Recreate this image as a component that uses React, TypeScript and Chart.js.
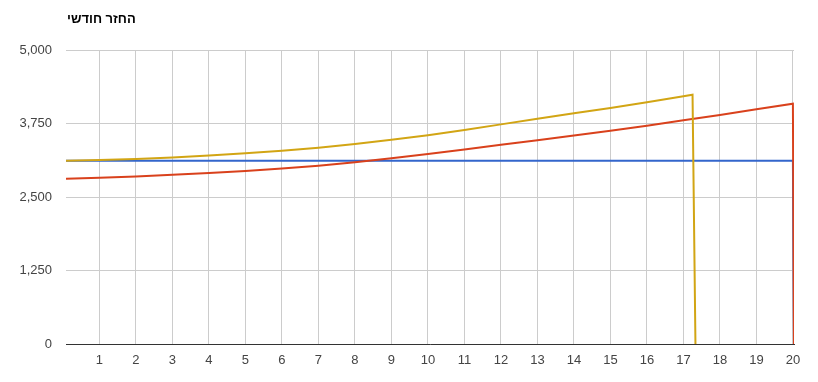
import React, { useEffect, useRef } from "react";
import { Chart, registerables } from "chart.js";

Chart.register(...registerables);

const titleText = "החזר חודשי";

const yTicks = [0, 1250, 2500, 3750, 5000];
const xTicks = [1, 2, 3, 4, 5, 6, 7, 8, 9, 10, 11, 12, 13, 14, 15, 16, 17, 18, 19, 20];

const blueX = [0.083, 20, 20.03];
const blueY = [3117, 3117, 0];

const yellowX = [0.083, 1, 2, 3, 4, 5, 6, 7, 8, 9, 10, 11, 12, 13, 14, 15, 16, 17, 17.25, 17.33];
const yellowY = [3117, 3128, 3148, 3173, 3205, 3242, 3285, 3338, 3402, 3472, 3552, 3640, 3735, 3830, 3923, 4013, 4110, 4213, 4240, 0];

const redX = [0.083, 1, 2, 3, 4, 5, 6, 7, 8, 9, 10, 11, 12, 13, 14, 15, 16, 17, 18, 19, 20, 20.03];
const redY = [2811, 2828, 2850, 2877, 2907, 2942, 2983, 3032, 3090, 3158, 3231, 3309, 3388, 3467, 3545, 3628, 3713, 3805, 3895, 3991, 4087, 0];

const toPts = (xs: number[], ys: number[]) => xs.map((x, i) => ({ x, y: ys[i] }));

export default function App() {
  const ref = useRef<HTMLCanvasElement | null>(null);
  useEffect(() => {
    if (!ref.current) return;
    const titlePlugin = {
      id: "hebTitle",
      afterDraw(chart: any) {
        const ctx = chart.ctx;
        ctx.save();
        ctx.font = "bold 13px Arial, 'Liberation Sans', sans-serif";
        ctx.fillStyle = "#000";
        ctx.direction = "rtl";
        ctx.textAlign = "left";
        ctx.textBaseline = "middle";
        ctx.fillText(titleText, chart.chartArea.left + 1, 19);
        ctx.restore();
      },
    };
    const chart = new Chart(ref.current, {
      type: "line",
      data: {
        datasets: [
          {
            label: "yellow",
            data: toPts(yellowX, yellowY),
            borderColor: "#d2a514",
            borderWidth: 2,
            pointRadius: 0,
            tension: 0,
            order: 0,
          },
          {
            label: "red",
            data: toPts(redX, redY),
            borderColor: "#d9411c",
            borderWidth: 2,
            pointRadius: 0,
            tension: 0,
            order: 1,
          },
          {
            label: "blue",
            data: toPts(blueX, blueY),
            borderColor: "#3366cc",
            borderWidth: 2,
            pointRadius: 0,
            tension: 0,
            order: 2,
          },
        ],
      },
      options: {
        animation: false,
        responsive: false,
        maintainAspectRatio: false,
        layout: { padding: { top: 50, right: 24, left: 0, bottom: 0 } },
        plugins: {
          legend: { display: false },
          title: { display: false },
          tooltip: { enabled: false },
        },
        scales: {
          x: {
            type: "linear",
            min: 0.083,
            max: 20.03,
            afterBuildTicks(scale: any) {
              scale.ticks = xTicks.map((v) => ({ value: v }));
            },
            afterFit(scale: any) {
              scale.height = 38;
            },
            grid: { color: "#cccccc", drawTicks: false, lineWidth: 1 },
            border: { display: true, color: "#333333", width: 1 },
            ticks: {
              padding: 9,
              color: "#444444",
              font: { family: "Arial, 'Liberation Sans', sans-serif", size: 13 },
              maxRotation: 0,
              autoSkip: false,
              callback: (v: any) => String(v),
            },
          },
          y: {
            min: 0,
            max: 5000,
            afterBuildTicks(scale: any) {
              scale.ticks = yTicks.map((v) => ({ value: v }));
            },
            afterFit(scale: any) {
              scale.width = 66;
            },
            grid: { color: "#cccccc", drawTicks: false, lineWidth: 1 },
            border: { display: false },
            ticks: {
              padding: 14,
              color: "#444444",
              font: { family: "Arial, 'Liberation Sans', sans-serif", size: 13 },
              callback: (v: any) => Number(v).toLocaleString("en-US"),
            },
          },
        },
      },
      plugins: [titlePlugin],
    } as any);
    return () => chart.destroy();
  }, []);
  return (
    <div style={{ position: "fixed", left: 0, top: 0, width: 818, height: 382, background: "#fff" }}>
      <canvas ref={ref} width={818} height={382} style={{ display: "block", width: 818, height: 382 }} />
    </div>
  );
}
